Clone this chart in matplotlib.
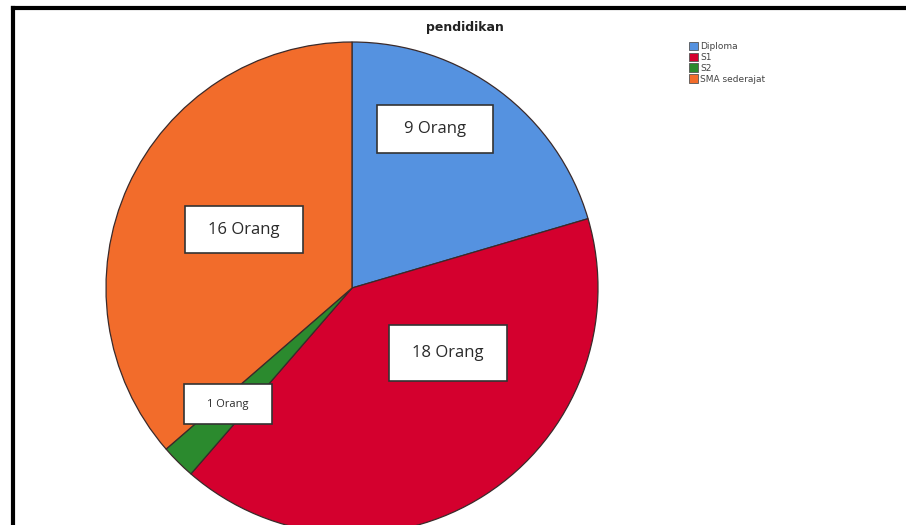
import matplotlib.pyplot as plt
from matplotlib.patches import Rectangle, Patch
from matplotlib.lines import Line2D

# data
kategori = ['Diploma', 'S1', 'S2', 'SMA sederajat']
jumlah = [9, 18, 1, 16]
warna = ['#5592e0', '#d4002e', '#2b8a2e', '#f26c2b']
label_teks = ['9 Orang', '18 Orang', '1 Orang', '16 Orang']

W, H = 906, 525
fig = plt.figure(figsize=(W / 100, H / 100), dpi=100)
fig.patch.set_facecolor('white')

# pie axes: centre (352, 288) px, radius 246 px
cx, cy, r = 352, 288, 246
ax = fig.add_axes([(cx - r) / W, (H - cy - r) / H, 2 * r / W, 2 * r / H])
ax.pie(jumlah, colors=warna, startangle=90, counterclock=False, radius=1,
       wedgeprops=dict(edgecolor='#3a2a2a', linewidth=0.9))
ax.set_xlim(-1, 1)
ax.set_ylim(-1, 1)
ax.set_aspect('equal')
ax.axis('off')

# kotak label (pixel: x kiri, y atas, lebar, tinggi, ukuran font)
kotak = [(377, 105, 116, 48, 12),
         (389, 325, 118, 56, 12),
         (184, 384, 88, 40, 8),
         (185, 206, 118, 47, 12)]
for (x0, y0, w, h, fs), t in zip(kotak, label_teks):
    fig.patches.append(Rectangle((x0 / W, 1 - (y0 + h) / H), w / W, h / H,
                                 transform=fig.transFigure, facecolor='white',
                                 edgecolor='#333333', linewidth=1.2, zorder=5))
    fig.text((x0 + w / 2) / W, 1 - (y0 + h / 2) / H, t, ha='center', va='center',
             fontsize=fs, family='Open Sans', color='#2a2a2a', zorder=6)

# judul
fig.text(465 / W, 1 - 28 / H, 'pendidikan', ha='center', va='center',
         fontsize=9, fontweight='bold', color='#222222')

# legenda
handles = [Patch(facecolor=c, edgecolor='#555555', linewidth=0.6) for c in warna]
leg = fig.legend(handles, kategori, loc='upper left',
                 bbox_to_anchor=(685 / W, 1 - 38 / H), frameon=False,
                 fontsize=6.5, handlelength=1.0, handleheight=1.0,
                 handletextpad=0.25, labelspacing=0.2, borderaxespad=0)
for t in leg.get_texts():
    t.set_color('#444444')

# garis bingkai hitam (kiri dan atas)
fig.lines.append(Line2D([13 / W, 13 / W], [0, 1 - 8 / H], transform=fig.transFigure,
                        color='black', linewidth=3))
fig.lines.append(Line2D([13 / W, 1], [1 - 8 / H, 1 - 8 / H], transform=fig.transFigure,
                        color='black', linewidth=3))

fig.savefig('out.png', dpi=100)
